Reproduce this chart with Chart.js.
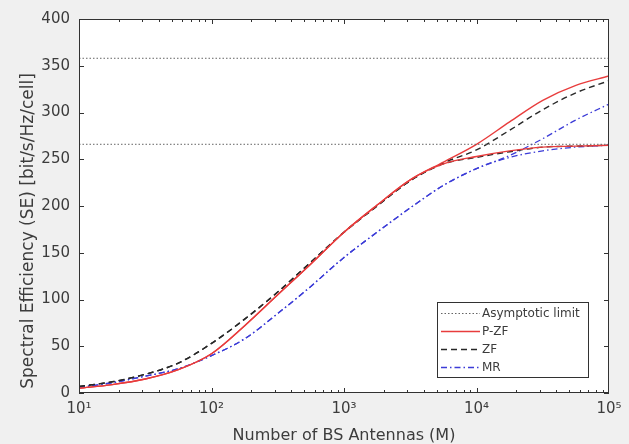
<!DOCTYPE html>
<html>
<head>
<meta charset="utf-8">
<script src="https://cdn.jsdelivr.net/npm/chart.js@4/dist/chart.umd.min.js"></script>
<style>
  html, body { margin: 0; padding: 0; background: #f0f0f0; }
  #c { display: block; }
</style>
</head>
<body>
<canvas id="c" width="629" height="444"></canvas>
<script>
// ---- data ----
const antennas = [10, 17.8, 31.6, 56.2, 100, 178, 316, 562, 1000, 1778, 3162, 5623, 10000, 17783, 31623, 56234, 100000];
const pzfRising = [5, 9, 15, 25, 42, 72, 105, 138, 172, 201, 228, 247, 266, 290, 313, 329, 339];
const pzfSat    = [5, 9, 15, 25, 42, 72, 105, 138, 172, 201, 228, 245, 253, 259, 263, 264, 265];
const zfRising  = [7, 12, 20, 32, 53, 79, 108, 140, 172, 200, 227, 246, 260, 281, 303, 321, 334];
const zfSat     = [7, 12, 20, 32, 53, 79, 108, 140, 172, 200, 227, 245, 252, 258, 263, 264, 265];
const mrRising  = [6, 11, 18, 26, 40, 58, 85, 114, 145, 172, 198, 222, 240, 254, 272, 292, 309];
const mrSat     = [6, 11, 18, 26, 40, 58, 85, 114, 145, 172, 198, 222, 240, 252, 259, 263, 265];
const asymptoteX = [10, 100000];
const asymptoteHigh = [358, 358];
const asymptoteLow = [266, 266];
const xTickValues = [10, 100, 1000, 10000, 100000];
const xTickLabels = ['10\u00B9', '10\u00B2', '10\u00B3', '10\u2074', '10\u2075'];
const yTickValues = [0, 50, 100, 150, 200, 250, 300, 350, 400];
const legendLabels = ['Asymptotic limit', 'P-ZF', 'ZF', 'MR'];
const xTitle = 'Number of BS Antennas (M)';
const yTitle = 'Spectral Efficiency (SE) [bit/s/Hz/cell]';

const pts = (xs, ys) => xs.map((x, i) => ({ x: x, y: ys[i] }));

const styles = {
  asym: { color: 'rgb(100,100,100)', dash: [1.5, 2], width: 1 },
  pzf:  { color: 'rgb(232,60,60)', dash: [], width: 1.4 },
  zf:   { color: 'rgb(40,40,40)', dash: [6, 4], width: 1.4 },
  mr:   { color: 'rgb(60,60,215)', dash: [6, 3, 1.5, 3], width: 1.3 }
};

function ds(label, data, st, show) {
  return {
    label: label, data: data, borderColor: st.color, backgroundColor: st.color,
    borderDash: st.dash, borderWidth: st.width, pointRadius: 0, fill: false,
    cubicInterpolationMode: 'monotone', _legend: show, _style: st
  };
}

const datasets = [
  ds(legendLabels[0], pts(asymptoteX, asymptoteHigh), styles.asym, true),
  ds(legendLabels[0], pts(asymptoteX, asymptoteLow), styles.asym, false),
  ds(legendLabels[1], pts(antennas, pzfRising), styles.pzf, true),
  ds(legendLabels[1], pts(antennas, pzfSat), styles.pzf, false),
  ds(legendLabels[2], pts(antennas, zfRising), styles.zf, true),
  ds(legendLabels[2], pts(antennas, zfSat), styles.zf, false),
  ds(legendLabels[3], pts(antennas, mrRising), styles.mr, true),
  ds(legendLabels[3], pts(antennas, mrSat), styles.mr, false)
];

const FONT = "'DejaVu Sans', 'Liberation Sans', sans-serif";
const AXIS_COLOR = 'rgb(50,50,50)';
const TEXT_COLOR = 'rgb(60,60,60)';

const bgPlugin = {
  id: 'bg',
  beforeDraw(chart) {
    const { ctx, chartArea: a } = chart;
    ctx.save();
    ctx.fillStyle = '#f0f0f0';
    ctx.fillRect(0, 0, chart.width, chart.height);
    ctx.fillStyle = '#ffffff';
    ctx.fillRect(a.left, a.top, a.right - a.left, a.bottom - a.top);
    ctx.restore();
  }
};

const framePlugin = {
  id: 'frame',
  afterDatasetsDraw(chart) {
    const { ctx, chartArea: a, scales } = chart;
    const xs = scales.x, ys = scales.y;
    ctx.save();
    ctx.strokeStyle = AXIS_COLOR;
    ctx.lineWidth = 1;
    ctx.setLineDash([]);
    ctx.strokeRect(a.left + 0.5, a.top + 0.5, a.right - a.left - 1, a.bottom - a.top - 1);
    ctx.beginPath();
    yTickValues.forEach(v => {
      const y = Math.round(ys.getPixelForValue(v)) + 0.5;
      ctx.moveTo(a.left, y); ctx.lineTo(a.left + 5, y);
      ctx.moveTo(a.right, y); ctx.lineTo(a.right - 5, y);
    });
    for (let d = 10; d < 100000; d *= 10) {
      for (let k = 1; k <= 9; k++) {
        const v = d * k;
        const x = Math.round(xs.getPixelForValue(v)) + 0.5;
        const len = k === 1 ? 5 : 3;
        ctx.moveTo(x, a.bottom); ctx.lineTo(x, a.bottom - len);
        ctx.moveTo(x, a.top); ctx.lineTo(x, a.top + len);
      }
    }
    ctx.stroke();
    ctx.restore();

    // y-axis title (placed as in the reference, slightly below the axis centre)
    ctx.save();
    ctx.fillStyle = TEXT_COLOR;
    ctx.font = '17px ' + FONT;
    ctx.textAlign = 'center';
    ctx.textBaseline = 'middle';
    ctx.translate(29, 231);
    ctx.rotate(-Math.PI / 2);
    ctx.fillText(yTitle, 0, 0);
    ctx.restore();

    // legend box inside axes (lower right)
    const items = chart.data.datasets.filter(d => d._legend);
    const bx = a.right - 172, by = a.bottom - 91, bw = 151, bh = 75;
    ctx.save();
    ctx.fillStyle = '#ffffff';
    ctx.fillRect(bx, by, bw, bh);
    ctx.strokeStyle = AXIS_COLOR;
    ctx.lineWidth = 1;
    ctx.strokeRect(bx + 0.5, by + 0.5, bw, bh);
    ctx.font = '12px ' + FONT;
    ctx.textBaseline = 'middle';
    items.forEach((d, i) => {
      const y = by + 11.5 + i * 18;
      const st = d._style;
      ctx.strokeStyle = st.color;
      ctx.lineWidth = st.width;
      ctx.setLineDash(st.dash);
      ctx.beginPath();
      ctx.moveTo(bx + 4, y); ctx.lineTo(bx + 43, y);
      ctx.stroke();
      ctx.setLineDash([]);
      ctx.fillStyle = TEXT_COLOR;
      ctx.fillText(d.label, bx + 45, y + 0.5);
    });
    ctx.restore();
  }
};

new Chart(document.getElementById('c'), {
  type: 'line',
  data: { datasets: datasets },
  plugins: [bgPlugin, framePlugin],
  options: {
    responsive: false,
    animation: false,
    layout: { padding: { left: 0, right: 20, top: 19, bottom: 0 } },
    plugins: { legend: { display: false }, tooltip: { enabled: false }, title: { display: false } },
    scales: {
      x: {
        type: 'logarithmic', min: 10, max: 100000,
        afterBuildTicks(scale) { scale.ticks = xTickValues.map(v => ({ value: v })); },
        afterFit(scale) { scale.height = 51; },
        grid: { display: false, drawTicks: false },
        border: { display: false },
        ticks: {
          autoSkip: false, maxRotation: 0, padding: 7,
          color: TEXT_COLOR, font: { family: FONT, size: 15 },
          callback(v) { const i = xTickValues.indexOf(v); return i >= 0 ? xTickLabels[i] : ''; }
        },
        title: {
          display: true, text: xTitle, color: TEXT_COLOR,
          font: { family: FONT, size: 16, lineHeight: 1 }, padding: { top: 0, bottom: 0 }
        }
      },
      y: {
        type: 'linear', min: 0, max: 400,
        afterBuildTicks(scale) { scale.ticks = yTickValues.map(v => ({ value: v })); },
        afterFit(scale) { scale.width = 79; },
        grid: { display: false, drawTicks: false },
        border: { display: false },
        ticks: { padding: 9, color: TEXT_COLOR, font: { family: FONT, size: 15 } },
        title: { display: false }
      }
    }
  }
});
</script>
</body>
</html>
